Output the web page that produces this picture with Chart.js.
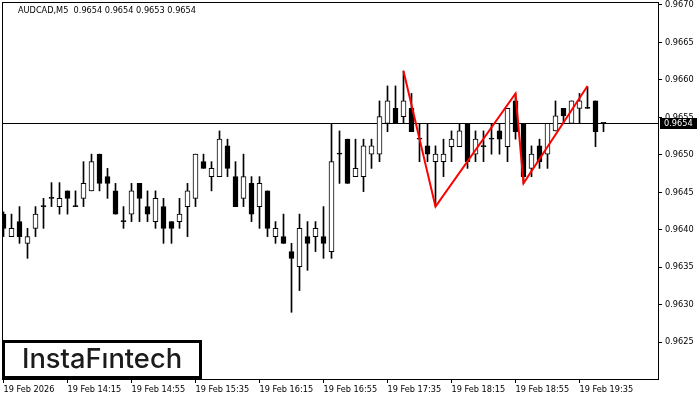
<!DOCTYPE html>
<html>
<head>
<meta charset="utf-8">
<script src="https://cdn.jsdelivr.net/npm/chart.js@4.4.1/dist/chart.umd.min.js"></script>
<style>
  html, body { margin: 0; padding: 0; background: #fff; }
  #chart { display: block; }
</style>
</head>
<body>
<canvas id="chart" width="700" height="400"></canvas>
<script>
const symbol = 'AUDCAD,M5';

// M5 candles, 19 Feb 13:35 .. 19:50
const opens = [
  0.96421, 0.96391, 0.96411, 0.96382, 0.96402, 0.96431, 0.96442, 0.96431, 0.96452, 0.96431,
  0.96442, 0.96452, 0.96501, 0.96471, 0.96452, 0.96411, 0.96421, 0.96462, 0.96431, 0.96411,
  0.96431, 0.96411, 0.96411, 0.96431, 0.96442, 0.96491, 0.96471, 0.96471, 0.96512, 0.96471,
  0.96442, 0.96462, 0.96431, 0.96452, 0.96391, 0.96391, 0.96371, 0.96351, 0.96391, 0.96391,
  0.96391, 0.96371, 0.96501, 0.96521, 0.96471, 0.96471, 0.96501, 0.96501, 0.96542, 0.96562,
  0.96551, 0.96562, 0.96521, 0.96512, 0.96491, 0.96491, 0.96511, 0.96511, 0.96542, 0.96501,
  0.96511, 0.96521, 0.96532, 0.96511, 0.96572, 0.96542, 0.96482, 0.96512, 0.96501, 0.96532,
  0.96562, 0.96542, 0.96562, 0.96562, 0.96572, 0.96542
];
const highs = [
  0.96424, 0.96421, 0.96431, 0.96402, 0.96431, 0.96442, 0.96463, 0.96463, 0.96452, 0.96452,
  0.96491, 0.96501, 0.96501, 0.96482, 0.96462, 0.96431, 0.96462, 0.96462, 0.96452, 0.96452,
  0.96442, 0.96411, 0.96442, 0.96462, 0.96501, 0.96501, 0.96491, 0.96532, 0.96521, 0.96491,
  0.96501, 0.96471, 0.96471, 0.96452, 0.96411, 0.96421, 0.96382, 0.96421, 0.96411, 0.96411,
  0.96431, 0.96542, 0.96532, 0.96521, 0.96521, 0.96521, 0.96521, 0.96572, 0.96592, 0.96592,
  0.96612, 0.96582, 0.96542, 0.96542, 0.96512, 0.96521, 0.96532, 0.96542, 0.96542, 0.96532,
  0.96532, 0.96542, 0.96542, 0.96562, 0.96582, 0.96542, 0.96512, 0.96521, 0.96542, 0.96572,
  0.96562, 0.96572, 0.96582, 0.96591, 0.96572, 0.96542
];
const lows = [
  0.96391, 0.96391, 0.96382, 0.96362, 0.96391, 0.96402, 0.96431, 0.96421, 0.96421, 0.96431,
  0.96431, 0.96452, 0.96452, 0.96442, 0.96421, 0.96402, 0.96411, 0.96411, 0.96411, 0.96402,
  0.96382, 0.96382, 0.96402, 0.96391, 0.96431, 0.96482, 0.96452, 0.96471, 0.96471, 0.96431,
  0.96431, 0.96411, 0.96402, 0.96391, 0.96382, 0.96382, 0.96290, 0.96319, 0.96346, 0.96371,
  0.96362, 0.96362, 0.96462, 0.96462, 0.96471, 0.96451, 0.96482, 0.96491, 0.96531, 0.96542,
  0.96542, 0.96531, 0.96491, 0.96491, 0.96432, 0.96471, 0.96491, 0.96511, 0.96482, 0.96491,
  0.96491, 0.96501, 0.96501, 0.96491, 0.96521, 0.96462, 0.96471, 0.96482, 0.96482, 0.96532,
  0.96542, 0.96542, 0.96542, 0.96562, 0.96511, 0.96531
];
const closes = [
  0.96402, 0.96402, 0.96391, 0.96391, 0.96421, 0.96431, 0.96442, 0.96442, 0.96442, 0.96431,
  0.96462, 0.96491, 0.96462, 0.96462, 0.96421, 0.96411, 0.96452, 0.96442, 0.96421, 0.96442,
  0.96402, 0.96402, 0.96421, 0.96452, 0.96501, 0.96482, 0.96482, 0.96521, 0.96482, 0.96431,
  0.96471, 0.96421, 0.96462, 0.96402, 0.96402, 0.96382, 0.96362, 0.96402, 0.96382, 0.96402,
  0.96382, 0.96491, 0.96501, 0.96462, 0.96482, 0.96512, 0.96512, 0.96551, 0.96572, 0.96542,
  0.96572, 0.96531, 0.96521, 0.96501, 0.96501, 0.96501, 0.96521, 0.96532, 0.96491, 0.96521,
  0.96511, 0.96521, 0.96521, 0.96562, 0.96531, 0.96471, 0.96501, 0.96491, 0.96542, 0.96552,
  0.96552, 0.96572, 0.96572, 0.96562, 0.96531, 0.96542
];

const timeTickIndex = [0, 8, 16, 24, 32, 40, 48, 56, 64, 72];
const timeTickLabels = [
  '19 Feb 2026', '19 Feb 14:15', '19 Feb 14:55', '19 Feb 15:35', '19 Feb 16:15',
  '19 Feb 16:55', '19 Feb 17:35', '19 Feb 18:15', '19 Feb 18:55', '19 Feb 19:35'
];
const priceTicks = [0.9625, 0.9630, 0.9635, 0.9640, 0.9645, 0.9650, 0.9655, 0.9660, 0.9665, 0.9670];

// triple top outline
const patternIndex = [50, 54, 64, 65, 73];
const patternPrice = [0.96612, 0.96431, 0.96582, 0.96462, 0.96592];

const X_MIN = -0.1875;
const X_MAX = 81.9375;
const Y_MIN = 0.96201;
const Y_MAX = 0.96704;
const FONT_FAMILY = "'DejaVu Sans', Verdana, sans-serif";
const AXIS_FONT = { family: FONT_FAMILY, size: 8.2 };

const lastIdx = closes.length - 1;

function noEdgePadding(scale) {
  scale.paddingTop = 0;
  scale.paddingBottom = 0;
  scale.paddingLeft = 0;
  scale.paddingRight = 0;
}

const mtOverlay = {
  id: 'mtOverlay',
  beforeDatasetsDraw(chart) {
    const { ctx, chartArea, scales } = chart;
    const y = Math.round(scales.y.getPixelForValue(closes[lastIdx])) + 0.5;
    ctx.save();
    ctx.strokeStyle = '#000';
    ctx.lineWidth = 1;
    ctx.beginPath();
    ctx.moveTo(chartArea.left, y);
    ctx.lineTo(chartArea.right, y);
    ctx.stroke();
    ctx.restore();
  },
  afterDraw(chart) {
    const { ctx, chartArea, scales } = chart;
    ctx.save();

    // frame
    ctx.strokeStyle = '#000';
    ctx.lineWidth = 1;
    ctx.strokeRect(chartArea.left + 0.5, chartArea.top + 0.5,
      chartArea.right - chartArea.left - 1, chartArea.bottom - chartArea.top);

    // header line
    const ohlc = [opens[lastIdx], highs[lastIdx], lows[lastIdx], closes[lastIdx]]
      .map((v) => v.toFixed(4)).join(' ');
    ctx.fillStyle = '#000';
    ctx.font = `8.2px ${FONT_FAMILY}`;
    ctx.textBaseline = 'middle';
    ctx.textAlign = 'left';
    ctx.fillText(`${symbol}  ${ohlc}`, 18, 11);

    // current price tag
    const py = Math.round(scales.y.getPixelForValue(closes[lastIdx]));
    ctx.fillStyle = '#000';
    ctx.fillRect(chartArea.right + 1, py - 5, 37, 11);
    ctx.fillStyle = '#fff';
    ctx.fillText(closes[lastIdx].toFixed(4), chartArea.right + 5, py + 1);

    // logo box
    ctx.fillStyle = '#fff';
    ctx.fillRect(3, 341, 198, 37);
    ctx.strokeStyle = '#000';
    ctx.lineWidth = 3;
    ctx.strokeRect(3.5, 341.5, 197, 36);
    ctx.fillStyle = '#1b1b1b';
    ctx.font = "500 26px Inter, 'Noto Sans', sans-serif";
    const w = ctx.measureText('InstaFıntech').width;
    const size = 26 * 160 / w;
    ctx.font = `500 ${size.toFixed(1)}px Inter, 'Noto Sans', sans-serif`;
    ctx.textAlign = 'center';
    ctx.textBaseline = 'alphabetic';
    ctx.fillText('InstaFıntech', 102, 368);

    ctx.restore();
  }
};

function buildCandles() {
  const wicks = opens.map((o, i) => ({ x: i, y: [lows[i], highs[i]] }));
  const bodies = opens.map((o, i) => ({ x: i, y: [o, closes[i]] }));
  const fills = opens.map((o, i) => (closes[i] > o ? '#fff' : '#000'));
  return { wicks, bodies, fills };
}

const { wicks, bodies, fills } = buildCandles();

new Chart(document.getElementById('chart'), {
  type: 'bar',
  data: {
    datasets: [
      {
        type: 'line',
        label: 'pattern',
        data: patternIndex.map((x, k) => ({ x, y: patternPrice[k] })),
        borderColor: '#ff0000',
        borderWidth: 2,
        pointRadius: 0,
        tension: 0,
        order: 0
      },
      {
        label: 'body',
        data: bodies,
        backgroundColor: fills,
        borderColor: '#000',
        borderWidth: 1,
        borderSkipped: false,
        barThickness: 5,
        minBarLength: 1,
        grouped: false,
        order: 1
      },
      {
        label: 'wick',
        data: wicks,
        backgroundColor: '#000',
        borderWidth: 0,
        barThickness: 1,
        grouped: false,
        order: 2
      }
    ]
  },
  options: {
    responsive: false,
    animation: false,
    devicePixelRatio: 1,
    events: [],
    layout: { padding: { top: 2, left: 2, right: 0, bottom: 0 } },
    plugins: {
      legend: { display: false },
      tooltip: { enabled: false }
    },
    scales: {
      x: {
        type: 'linear',
        position: 'bottom',
        offset: false,
        min: X_MIN,
        max: X_MAX,
        afterBuildTicks: (scale) => {
          scale.ticks = timeTickIndex.map((v) => ({ value: v }));
        },
        afterFit: (scale) => {
          scale.height = 21;
          noEdgePadding(scale);
        },
        ticks: {
          callback: (v) => timeTickLabels[timeTickIndex.indexOf(v)],
          align: 'start',
          autoSkip: false,
          maxRotation: 0,
          padding: 2,
          color: '#000',
          font: AXIS_FONT
        },
        grid: { offset: false, drawOnChartArea: false, drawTicks: true, tickLength: 4, color: '#000' },
        border: { display: false }
      },
      y: {
        position: 'right',
        min: Y_MIN,
        max: Y_MAX,
        afterBuildTicks: (scale) => {
          scale.ticks = priceTicks.map((v) => ({ value: v }));
        },
        afterFit: (scale) => {
          scale.width = 41;
          noEdgePadding(scale);
        },
        ticks: {
          callback: (v) => Number(v).toFixed(4),
          padding: 3,
          color: '#000',
          font: AXIS_FONT
        },
        grid: { drawOnChartArea: false, drawTicks: true, tickLength: 3, color: '#000' },
        border: { display: false }
      }
    }
  },
  plugins: [mtOverlay]
});
</script>
</body>
</html>
